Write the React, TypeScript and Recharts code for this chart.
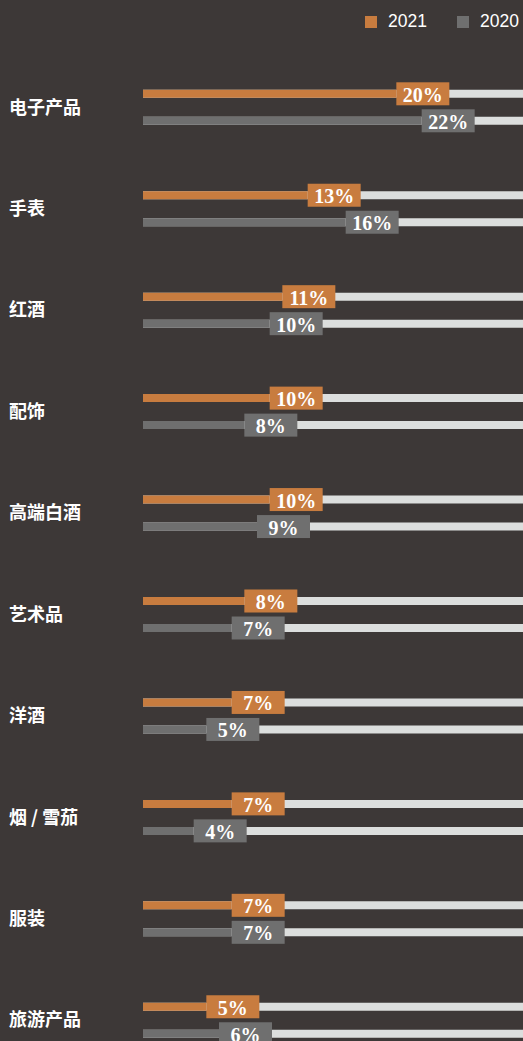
import React from 'react'
import { BarChart, Bar, XAxis, YAxis, LabelList } from 'recharts'

const categories = ['电子产品', '手表', '红酒', '配饰', '高端白酒', '艺术品', '洋酒', '烟 / 雪茄', '服装', '旅游产品']
const values2021 = [20, 13, 11, 10, 10, 8, 7, 7, 7, 5]
const values2020 = [22, 16, 10, 8, 9, 7, 5, 4, 7, 6]
const seriesNames = ['2021', '2020']

const BG = '#3d3837'
const ORANGE = '#c87c3f'
const GRAY = '#6f6f6f'
const TRACK = '#dcdedd'

const data = categories.map((name, i) => ({
  name,
  v2021: values2021[i],
  v2020: values2020[i],
}))

// box sitting at the end of each bar with the percentage
const makeLabel = (fill: string) => (props: any) => {
  const { x, y, width, height, value } = props
  const bx = x + width
  const cy = y + height / 2
  return (
    <g>
      <rect x={bx} y={cy - 11.5} width={53} height={23} fill={fill} />
      <text
        x={bx + 26.5}
        y={cy + 1}
        textAnchor="middle"
        dominantBaseline="central"
        fill="#fff"
        fontFamily="'Liberation Serif', serif"
        fontWeight="bold"
        fontSize={20}
      >
        {value}%
      </text>
    </g>
  )
}

const CategoryTick = (props: any) => {
  const { y, payload } = props
  return (
    <text
      x={9}
      y={y - 2}
      dominantBaseline="central"
      fill="#fff"
      fontFamily="'Noto Sans CJK SC', sans-serif"
      fontWeight="bold"
      fontSize={18}
    >
      {payload.value}
    </text>
  )
}

const LegendBox = () => (
  <div style={{ position: 'absolute', top: 11, left: 365, display: 'flex', alignItems: 'center', fontFamily: "'Liberation Sans', Arial, sans-serif", fontSize: 17.5, color: '#fff' }}>
    <span style={{ width: 12, height: 12, background: ORANGE, display: 'inline-block' }} />
    <span style={{ marginLeft: 11 }}>{seriesNames[0]}</span>
    <span style={{ width: 12, height: 12, background: GRAY, display: 'inline-block', marginLeft: 30 }} />
    <span style={{ marginLeft: 11 }}>{seriesNames[1]}</span>
  </div>
)

const App: React.FC = () => {
  return (
    <div style={{ position: 'absolute', left: 0, top: 0, width: 523, height: 1041, overflow: 'hidden', background: BG }}>
      <LegendBox />
      <BarChart
        width={523}
        height={1100}
        data={data}
        layout="vertical"
        margin={{ top: 56.8, right: 0, bottom: 28.8, left: 0 }}
        barSize={8}
        barGap={19}
        barCategoryGap={0}
      >
        <XAxis type="number" domain={[0, 30]} hide />
        <YAxis
          type="category"
          dataKey="name"
          width={143}
          axisLine={false}
          tickLine={false}
          tick={<CategoryTick />}
          interval={0}
        />
        <Bar dataKey="v2021" fill={ORANGE} background={{ fill: TRACK }} isAnimationActive={false}>
          <LabelList dataKey="v2021" content={makeLabel(ORANGE)} />
        </Bar>
        <Bar dataKey="v2020" fill={GRAY} background={{ fill: TRACK }} isAnimationActive={false}>
          <LabelList dataKey="v2020" content={makeLabel(GRAY)} />
        </Bar>
      </BarChart>
    </div>
  )
}

export default App
